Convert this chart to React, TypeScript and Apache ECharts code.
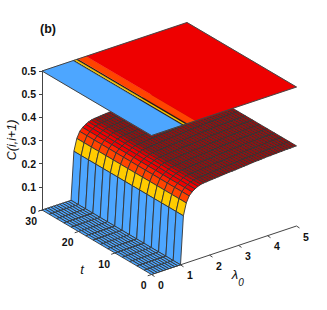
import React, { useEffect, useRef } from "react";
import * as echarts from "echarts";

const lambdaGrid = [
  0, 0.1, 0.2, 0.3, 0.4, 0.5, 0.6, 0.7, 0.8, 0.9, 1.0, 1.1, 1.2, 1.3, 1.4, 1.5, 1.6, 1.7, 1.8, 1.9, 2.0, 2.1, 2.2, 2.3,
  2.4, 2.5, 2.6, 2.7, 2.8, 2.9, 3.0, 3.1, 3.2, 3.3, 3.4, 3.5, 3.6, 3.7, 3.8, 3.9, 4.0, 4.1, 4.2, 4.3, 4.4, 4.5, 4.6,
  4.7, 4.8, 4.9, 5.0,
];
const correlationByLambda = [
  0, 0, 0, 0, 0, 0, 0, 0, 0, 0, 0, 0.19, 0.237, 0.261, 0.273, 0.281, 0.287, 0.291, 0.293, 0.294, 0.295, 0.296, 0.297,
  0.298, 0.299, 0.3, 0.301, 0.302, 0.302, 0.303, 0.304, 0.305, 0.306, 0.307, 0.308, 0.309, 0.31, 0.31, 0.311, 0.312,
  0.313, 0.313, 0.314, 0.314, 0.315, 0.315, 0.316, 0.316, 0.316, 0.317, 0.317,
];
const tGrid = [0, 2, 4, 6, 8, 10, 12, 14, 16, 18, 20, 22, 24, 26, 28, 30];
const planeLevel = 0.55;
const planeBandEdges = [0, 1.07, 1.12, 1.18, 1.24, 1.52, 5];
const planeBandColors = ["#4da6ff", "#1a1a1a", "#ffc800", "#1a1a1a", "#ff4400", "#ee0000"];
const cTickLabels = ["0", "0.1", "0.2", "0.3", "0.4", "0.5", "0.5"];
const tTicks = [0, 10, 20, 30];
const lambdaTicks = [0, 1, 2, 3, 4, 5];

const BLUE = "#4da6ff";
const YELLOW = "#ffcc00";
const ORANGE = "#ff4400";
const RED = "#f00000";
const LABEL_FONT = "Liberation Sans";

function cellColor(mean: number) {
  if (mean < 0.15) return BLUE;
  if (mean < 0.235) return YELLOW;
  if (mean < 0.26) return ORANGE;
  if (mean < 0.272) return "#ff2200";
  if (mean < 0.287) return RED;
  if (mean < 0.2905) return "#d80000";
  if (mean < 0.2925) return "#bb0505";
  return "#960f0f";
}

export default function App() {
  const ref = useRef<HTMLDivElement>(null);
  useEffect(() => {
    document.body.style.margin = "0";
    const chart = echarts.init(ref.current!, null, { renderer: "svg" });
    const project = (api: any, lambda: number, t: number, c: number) => {
      const p = api.coord([lambda, c]);
      return [p[0] + (30 - t) * 3.65, p[1] + (30 - t) * 2.15 - 9.7 * lambda];
    };

    const cells: number[][] = [];
    for (let it = tGrid.length - 2; it >= 0; it--) {
      for (let il = lambdaGrid.length - 2; il >= 0; il--) cells.push([il, it]);
    }

    const axisLines = [
      { from: [0, 0], to: [5, 0] },
      ...lambdaTicks.map((l) => ({ from: [l, 0], to: [l, 0], tick: "l" })),
      ...tTicks.map((t) => ({ from: [0, t], to: [0, t], tick: "t" })),
    ];

    chart.setOption({
      animation: false,
      backgroundColor: "#fff",
      grid: { left: 42, top: 71, width: 145, height: 139, containLabel: false },
      xAxis: { type: "value", min: 0, max: 5, show: false },
      yAxis: {
        type: "value",
        min: 0,
        max: planeLevel,
        interval: planeLevel / 6,
        splitLine: { show: false },
        axisLine: { show: true, onZero: false, lineStyle: { color: "#444", width: 1 } },
        axisTick: { show: true, length: 3, lineStyle: { color: "#444" } },
        axisLabel: {
          margin: 6,
          color: "#111",
          fontFamily: LABEL_FONT,
          fontWeight: "bold",
          fontSize: 10.5,
          formatter: (_v: number, i: number) => cTickLabels[i],
        },
      },
      series: [
        {
          type: "custom",
          clip: false,
          silent: true,
          data: axisLines.map((_, i) => [i, 0]),
          renderItem: (params: any, api: any) => {
            const a: any = axisLines[params.dataIndex];
            const p1 = project(api, a.from[0], a.from[1], 0);
            const p2 = project(api, a.to[0], a.to[1], 0);
            if (a.tick === "l") {
              p2[0] += 3;
              p2[1] += 2;
            } else if (a.tick === "t") {
              p2[0] -= 3.8;
              p2[1] += 1.3;
            }
            return {
              type: "line",
              shape: { x1: p1[0], y1: p1[1], x2: p2[0], y2: p2[1] },
              style: { stroke: "#444", lineWidth: 1, fill: "none" },
            };
          },
        },
        {
          type: "custom",
          clip: false,
          silent: true,
          data: cells,
          renderItem: (_params: any, api: any) => {
            const il = api.value(0);
            const it = api.value(1);
            const l0 = lambdaGrid[il];
            const l1 = lambdaGrid[il + 1];
            const t0 = tGrid[it];
            const t1 = tGrid[it + 1];
            const c0 = correlationByLambda[il];
            const c1 = correlationByLambda[il + 1];
            return {
              type: "polygon",
              shape: {
                points: [
                  project(api, l0, t0, c0),
                  project(api, l1, t0, c1),
                  project(api, l1, t1, c1),
                  project(api, l0, t1, c0),
                ],
              },
              style: { fill: cellColor((c0 + c1) / 2), stroke: "#333", lineWidth: 0.9 },
            };
          },
        },
        {
          type: "custom",
          clip: false,
          silent: true,
          data: planeBandColors.map((_, i) => [i, 0]),
          renderItem: (params: any, api: any) => {
            const i = params.dataIndex;
            const l0 = planeBandEdges[i];
            const l1 = planeBandEdges[i + 1];
            return {
              type: "polygon",
              shape: {
                points: [
                  project(api, l0, 0, planeLevel),
                  project(api, l1, 0, planeLevel),
                  project(api, l1, 30, planeLevel),
                  project(api, l0, 30, planeLevel),
                ],
              },
              style: { fill: planeBandColors[i], stroke: planeBandColors[i], lineWidth: 0.3 },
            };
          },
        },
        {
          type: "custom",
          clip: false,
          silent: true,
          data: [[0, 0]],
          renderItem: (_params: any, api: any) => ({
            type: "polygon",
            shape: {
              points: [
                project(api, 0, 0, planeLevel),
                project(api, 5, 0, planeLevel),
                project(api, 5, 30, planeLevel),
                project(api, 0, 30, planeLevel),
              ],
            },
            style: { fill: "none", stroke: "#444", lineWidth: 1 },
          }),
        },
        {
          type: "custom",
          clip: false,
          silent: true,
          data: lambdaTicks.map((l) => [l, 0]),
          renderItem: (_params: any, api: any) => {
            const l = api.value(0);
            const p = project(api, l, 0, 0);
            return {
              type: "text",
              x: p[0] + 9.5,
              y: p[1] + 10.5,
              style: {
                text: String(l),
                fill: "#111",
                fontFamily: LABEL_FONT,
                fontWeight: "bold",
                fontSize: 10.5,
                align: "center",
                verticalAlign: "middle",
              },
            };
          },
        },
        {
          type: "custom",
          clip: false,
          silent: true,
          data: tTicks.map((t) => [t, 0]),
          renderItem: (_params: any, api: any) => {
            const t = api.value(0);
            const p = project(api, 0, t, 0);
            return {
              type: "text",
              x: p[0] - 5,
              y: p[1] + 10.5,
              style: {
                text: String(t),
                fill: "#111",
                fontFamily: LABEL_FONT,
                fontWeight: "bold",
                fontSize: 10.5,
                align: "right",
                verticalAlign: "middle",
              },
            };
          },
        },
      ],
      graphic: [
        {
          type: "text",
          x: 48,
          y: 28.5,
          style: {
            text: "(b)",
            fill: "#111",
            fontFamily: LABEL_FONT,
            fontWeight: "bold",
            fontSize: 12.5,
            align: "center",
            verticalAlign: "middle",
          },
        },
        {
          type: "text",
          x: 12,
          y: 140,
          rotation: Math.PI / 2,
          style: {
            text: "C(i,i+1)",
            fill: "#111",
            fontFamily: LABEL_FONT,
            fontStyle: "italic",
            fontSize: 12.5,
            align: "center",
            verticalAlign: "middle",
          },
        },
        {
          type: "text",
          x: 82,
          y: 269,
          style: {
            text: "t",
            fill: "#111",
            fontFamily: LABEL_FONT,
            fontStyle: "italic",
            fontSize: 13,
            align: "center",
            verticalAlign: "middle",
          },
        },
        {
          type: "text",
          x: 235,
          y: 274,
          style: {
            text: "λ",
            fill: "#111",
            fontFamily: LABEL_FONT,
            fontStyle: "italic",
            fontSize: 13,
            align: "center",
            verticalAlign: "middle",
          },
        },
        {
          type: "text",
          x: 241,
          y: 282,
          style: {
            text: "0",
            fill: "#111",
            fontFamily: LABEL_FONT,
            fontStyle: "italic",
            fontSize: 10,
            align: "center",
            verticalAlign: "middle",
          },
        },
      ],
    });
    return () => chart.dispose();
  }, []);
  return <div ref={ref} style={{ width: 327, height: 310 }} />;
}
